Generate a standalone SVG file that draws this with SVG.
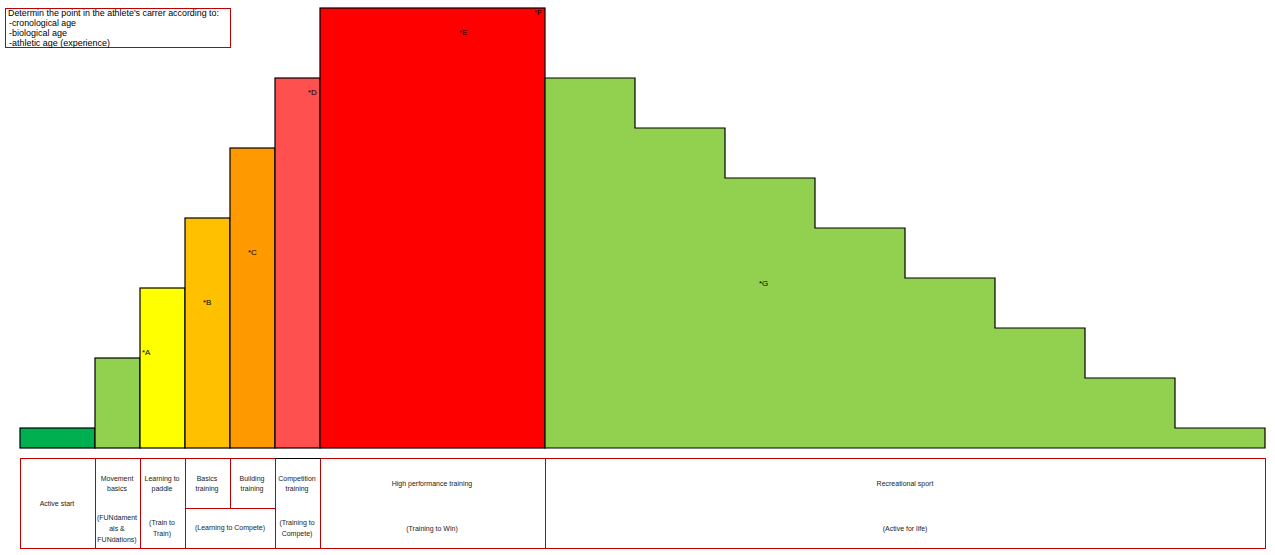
<svg xmlns="http://www.w3.org/2000/svg" width="1275" height="555" viewBox="0 0 1275 555">
<style>
.bar{stroke:#000;stroke-width:1.2}
.lbl{font-family:"Liberation Sans",Arial,sans-serif;font-size:8px;fill:#000}
.cell{fill:none;stroke:#C00000;stroke-width:1}
.t{font-family:"Liberation Sans",Arial,sans-serif;font-size:7px;fill:#222;text-anchor:middle}
.note{font-family:"Liberation Sans",Arial,sans-serif;font-size:9px;fill:#000}
</style>
<rect width="1275" height="555" fill="#fff"/>
<g id="note">
<rect x="5.5" y="8.5" width="225" height="39" fill="#fff" stroke="#C00000" stroke-width="1"/>
<text class="note" x="8" y="16" textLength="211" lengthAdjust="spacingAndGlyphs">Determin the point in the athlete's carrer according to:</text>
<text class="note" x="9" y="26" textLength="67" lengthAdjust="spacingAndGlyphs">-cronological age</text>
<text class="note" x="9" y="36" textLength="58" lengthAdjust="spacingAndGlyphs">-biological age</text>
<text class="note" x="9" y="46" textLength="101" lengthAdjust="spacingAndGlyphs">-athletic age (experience)</text>
</g>
<g id="bars">
<rect id="active-start" class="bar" x="20" y="428" width="75" height="20" fill="#00B050"/>
<rect id="movement-basics" class="bar" x="95" y="358" width="45" height="90" fill="#92D050"/>
<rect id="learning-to-paddle" class="bar" x="140" y="288" width="45" height="160" fill="#FFFF00"/>
<rect id="basics-training" class="bar" x="185" y="218" width="45" height="230" fill="#FFC000"/>
<rect id="building-training" class="bar" x="230" y="148" width="45" height="300" fill="#FF9900"/>
<rect id="competition-training" class="bar" x="275" y="78" width="45" height="370" fill="#FF5050"/>
<rect id="high-performance" class="bar" x="320" y="8" width="225" height="440" fill="#FF0000"/>
<path id="recreational" class="bar" fill="#92D050" d="M545 448 V78 H635 V128 H725 V178 H815 V228 H905 V278 H995 V328 H1085 V378 H1175 V428 H1265 V448 Z"/>
</g>
<g id="markers">
<text class="lbl" x="142" y="355">*A</text>
<text class="lbl" x="203" y="305">*B</text>
<text class="lbl" x="248" y="255">*C</text>
<text class="lbl" x="308" y="95">*D</text>
<text class="lbl" x="459" y="35">*E</text>
<text class="lbl" x="534" y="15">*F</text>
<text class="lbl" x="759" y="286">*G</text>
</g>
<g id="table">
<rect class="cell" x="20.5" y="458.5" width="1245" height="90"/>
<path class="cell" d="M95.5 458.5 V548.5 M140.5 458.5 V548.5 M185.5 458.5 V548.5 M275.5 458.5 V548.5 M320.5 458.5 V548.5 M545.5 458.5 V548.5 M230.5 458.5 V508.5 M185.5 508.5 H275.5"/>
<path d="M275.5 458.5 H320.5" stroke="#000" stroke-width="1"/>
<g id="cell-active-start"><text class="t" x="57" y="506">Active start</text></g>
<g id="cell-movement"><text class="t" x="117" y="481">Movement</text><text class="t" x="117" y="491">basics</text>
<text class="t" x="117" y="520">(FUNdament</text><text class="t" x="117" y="531">als &amp;</text><text class="t" x="117" y="542">FUNdations)</text></g>
<g id="cell-paddle"><text class="t" x="162" y="481">Learning to</text><text class="t" x="162" y="491">paddle</text>
<text class="t" x="162" y="525">(Train to</text><text class="t" x="162" y="536">Train)</text></g>
<g id="cell-basics"><text class="t" x="207" y="481">Basics</text><text class="t" x="207" y="491">training</text></g>
<g id="cell-building"><text class="t" x="252" y="481">Building</text><text class="t" x="252" y="491">training</text></g>
<g id="cell-learning-compete"><text class="t" x="230" y="530">(Learning to Compete)</text></g>
<g id="cell-competition"><text class="t" x="297" y="481">Competition</text><text class="t" x="297" y="491">training</text>
<text class="t" x="297" y="525">(Training to</text><text class="t" x="297" y="536">Compete)</text></g>
<g id="cell-high-perf"><text class="t" x="432" y="486">High performance training</text><text class="t" x="432" y="531">(Training to Win)</text></g>
<g id="cell-recreational"><text class="t" x="905" y="486">Recreational sport</text><text class="t" x="905" y="531">(Active for life)</text></g>
</g>
</svg>
